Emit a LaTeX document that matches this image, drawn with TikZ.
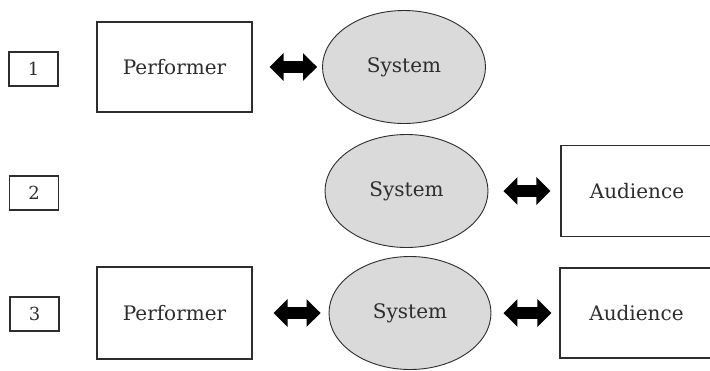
\documentclass[tikz,border=0pt]{standalone}
\usepackage{fontspec}
\setmainfont{DejaVu Serif}
\usetikzlibrary{shapes.geometric,arrows.meta}

\definecolor{sysgray}{RGB}{218,218,218}
\definecolor{inkgray}{RGB}{45,45,45}

\tikzset{
    numbox/.style={draw=inkgray, line width=1.1pt, minimum width=49pt, minimum height=34pt,
        inner sep=0pt, text=inkgray, font=\fontsize{18}{18}\selectfont},
    actor/.style={draw=inkgray, line width=1.3pt, minimum width=155pt, minimum height=90pt,
        inner sep=0pt, text=inkgray, font=\fontsize{20}{20}\selectfont},
    sysnode/.style={ellipse, draw=inkgray, line width=0.9pt, fill=sysgray, minimum width=163pt,
        minimum height=113pt, inner sep=0pt, text=inkgray, font=\fontsize{20}{20}\selectfont},
    link/.style={line width=12pt, {Triangle[length=14pt,width=27pt]}-{Triangle[length=14pt,width=27pt]}}
}

\begin{document}
\begin{tikzpicture}[x=1pt,y=-1pt]
        \useasboundingbox (0,0) rectangle (710,370);

        % Row 1
        \node[numbox] (num1) at (33.5,69) {1};
        \node[actor] (perf1) at (174.5,67) {Performer};
        \node[sysnode] (sys1) at (404,67) {System};
        \draw[link, shorten <=17pt, shorten >=5pt] (perf1) -- (sys1);

        % Row 2
        \node[numbox] (num2) at (34,193) {2};
        \node[sysnode] (sys2) at (406.5,191) {System};
        \node[actor, minimum width=152pt, minimum height=91pt] (aud2) at (637,191) {Audience};
        \draw[link, shorten <=15pt, shorten >=10pt] (sys2) -- (aud2);

        % Row 3
        \node[numbox] (num3) at (34.5,314) {3};
        \node[actor, minimum height=92pt] (perf3) at (174.5,313) {Performer};
        \node[sysnode, minimum width=162pt] (sys3) at (410,313) {System};
        \node[actor, minimum width=153pt] (aud3) at (636.5,313) {Audience};
        \draw[link, shorten <=21pt, shorten >=8pt] (perf3) -- (sys3);
        \draw[link, shorten <=12pt, shorten >=8pt] (sys3) -- (aud3);
    \end{tikzpicture}
\end{document}
